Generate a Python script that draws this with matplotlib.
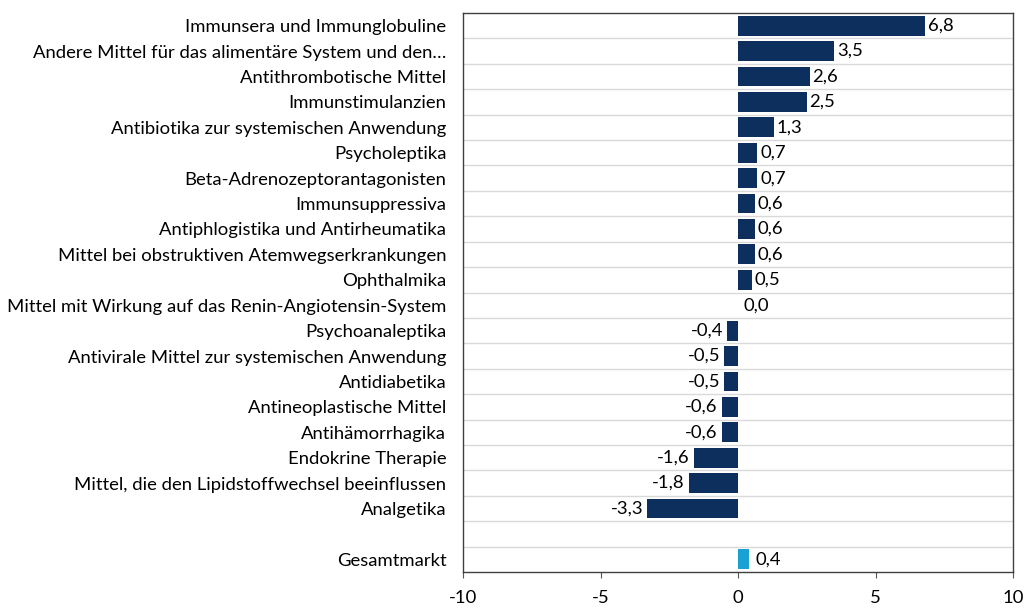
import matplotlib
matplotlib.use("Agg")
import matplotlib.pyplot as plt

categories = [
    "Immunsera und Immunglobuline",
    "Andere Mittel für das alimentäre System und den…",
    "Antithrombotische Mittel",
    "Immunstimulanzien",
    "Antibiotika zur systemischen Anwendung",
    "Psycholeptika",
    "Beta-Adrenozeptorantagonisten",
    "Immunsuppressiva",
    "Antiphlogistika und Antirheumatika",
    "Mittel bei obstruktiven Atemwegserkrankungen",
    "Ophthalmika",
    "Mittel mit Wirkung auf das Renin-Angiotensin-System",
    "Psychoanaleptika",
    "Antivirale Mittel zur systemischen Anwendung",
    "Antidiabetika",
    "Antineoplastische Mittel",
    "Antihämorrhagika",
    "Endokrine Therapie",
    "Mittel, die den Lipidstoffwechsel beeinflussen",
    "Analgetika",
]
values = [6.8, 3.5, 2.6, 2.5, 1.3, 0.7, 0.7, 0.6, 0.6, 0.6, 0.5, 0.0,
          -0.4, -0.5, -0.5, -0.6, -0.6, -1.6, -1.8, -3.3]
total_label = "Gesamtmarkt"
total_value = 0.4
xticks = [-10, -5, 0, 5, 10]

plt.rcParams['font.family'] = ['Lato', 'DejaVu Sans']
FS = 13.3

fig = plt.figure(figsize=(10.26, 6.08), dpi=100)
ax = fig.add_axes([463/1026, 1-572/608, 550/1026, 559/608])

n = len(categories)
ypos = list(range(n))
total_y = n + 1
dark = "#0D2F5E"
light = "#1AA1D3"

ax.barh(ypos, values, height=0.78, color=dark, linewidth=0, zorder=3)
ax.barh([total_y], [total_value], height=0.78, color=light, linewidth=0, zorder=3)

def fmt(v):
    return f"{v:.1f}".replace(".", ",")

for y, v in zip(ypos + [total_y], values + [total_value]):
    if v > 0:
        off = 2 if y != total_y else 5
        ax.annotate(fmt(v), (v, y), xytext=(off, 0), textcoords="offset points",
                    ha="left", va="center", fontsize=FS, color="black")
    elif v < 0:
        ax.annotate(fmt(v), (v, y), xytext=(-3, 0), textcoords="offset points",
                    ha="right", va="center", fontsize=FS, color="black")
    else:
        ax.annotate(fmt(v), (v, y), xytext=(4, 0), textcoords="offset points",
                    ha="left", va="center", fontsize=FS, color="black")

ax.set_xlim(-10, 10)
ax.set_ylim(total_y + 0.5, -0.5)
ax.set_xticks(xticks)
ax.set_xticklabels([str(t) for t in xticks], fontsize=FS)
ax.set_yticks(ypos + [total_y])
ax.set_yticklabels(categories + [total_label], fontsize=FS)
ax.tick_params(axis="y", length=0, pad=12)
ax.tick_params(axis="x", length=4, color="#555555", pad=9)

for b in range(1, total_y + 1):
    ax.axhline(b - 0.5, color="#D9D9D9", linewidth=1, zorder=1)

for s in ax.spines.values():
    s.set_color("#404040")
    s.set_linewidth(1)

fig.savefig("out.png", dpi=100)
